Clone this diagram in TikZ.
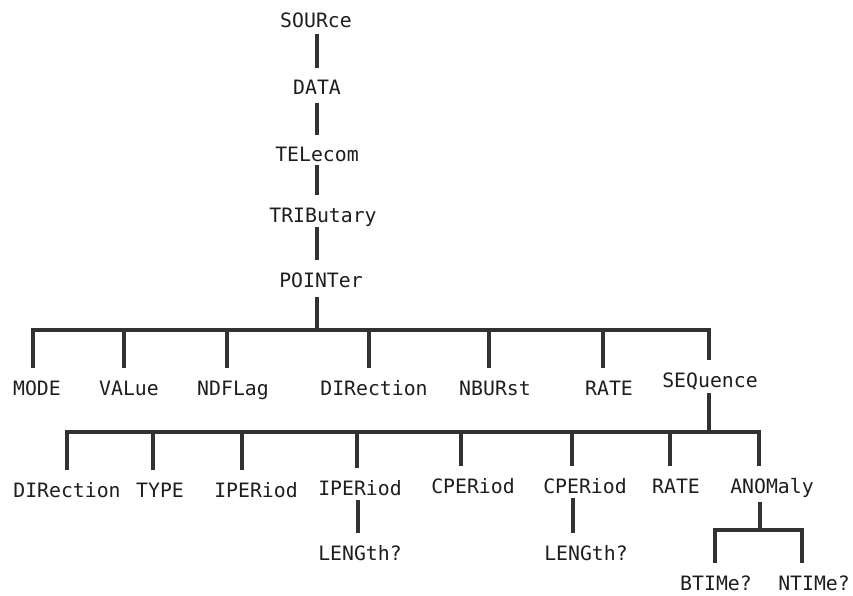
\documentclass[tikz,border=0pt]{standalone}
\usepackage{fontspec}
\setmonofont{DejaVu Sans Mono}
\definecolor{ink}{RGB}{30,30,30}
\definecolor{wirec}{RGB}{50,50,50}
\begin{document}
\begin{tikzpicture}[x=1pt,y=-1pt,
  lbl/.style={anchor=base, font=\ttfamily\fontsize{19.8}{22}\selectfont, text=ink,
              inner xsep=0pt, inner ysep=12pt, text height=15pt, text depth=0pt},
  wire/.style={draw=wirec, line width=3.2pt, line join=miter}]
\fill[white] (0,0) rectangle (853,596);
\useasboundingbox (0,0) rectangle (853,596);

% chain
\node[lbl] (source) at (316,28) {SOURce};
\node[lbl] (data)   at (317,95) {DATA};
\node[lbl] (tele)   at (317,162) {TELecom};
\node[lbl] (trib)   at (323,222) {TRIButary};
\node[lbl] (pointer) at (321,287) {POINTer};

% level 1
\node[lbl] (l1mode)   at (37,395)  {MODE};
\node[lbl] (l1value)  at (129,395) {VALue};
\node[lbl] (l1ndf)    at (233,395) {NDFLag};
\node[lbl] (l1dir)    at (374,395) {DIRection};
\node[lbl] (l1nburst) at (495,395) {NBURst};
\node[lbl] (l1rate)   at (609,395) {RATE};
\node[lbl] (l1seq)    at (710,387) {SEQuence};

% level 2
\node[lbl] (l2dir)   at (67,497)  {DIRection};
\node[lbl] (l2type)  at (160,497) {TYPE};
\node[lbl] (l2iper)  at (256,497) {IPERiod};
\node[lbl] (l2iper2) at (360,495) {IPERiod};
\node[lbl] (l2cper)  at (473,493) {CPERiod};
\node[lbl] (l2cper2) at (585,493) {CPERiod};
\node[lbl] (l2rate)  at (676,493) {RATE};
\node[lbl] (l2anom)  at (772,493) {ANOMaly};

% level 3
\node[lbl] (len1)  at (360,560) {LENGth?};
\node[lbl] (len2)  at (586,560) {LENGth?};
\node[lbl] (btime) at (716,590) {BTIMe?};
\node[lbl] (ntime) at (814,590) {NTIMe?};

% coordinates
\coordinate (spine) at (317,0);
\coordinate (b1) at (0,330);
\coordinate (b2) at (0,432);
\foreach \n/\x in {mode/33, value/124, ndf/227, dir/369, nburst/489, rate/603, seq/709}
  \coordinate (j1\n) at (\x,330);
\foreach \n/\x in {dir/67, type/153, iper/242, iper2/357, cper/461, cper2/572, rate/670, anom/759}
  \coordinate (j2\n) at (\x,432);
\coordinate (jlen1) at (358,0);
\coordinate (jlen2) at (573,0);
\coordinate (janom) at (760,530);
\coordinate (jbt) at (715,530);
\coordinate (jnt) at (802,530);

% chain connectors
\draw[wire] (source.south -| spine) ++(0,-6) -- (data.north -| spine);
\draw[wire] (data.south -| spine) ++(0,-4) -- (tele.north -| spine);
\draw[wire] (tele.south -| spine) ++(0,-9) -- (trib.north -| spine);
\draw[wire] (trib.south -| spine) ++(0,-7) -- (pointer.north -| spine);
\draw[wire] (pointer.south -| spine) ++(0,-2) -- (spine |- b1);

% level 1 bus
\draw[wire] (l1mode.north -| j1mode) |- (j1seq) -- (l1seq.north -| j1seq);
\foreach \n in {value, ndf, dir, nburst, rate}
  \draw[wire] (j1\n) -- (j1\n |- l1\n.north);

% level 2 bus
\draw[wire] (l1seq.south -| j1seq) ++(0,-6) -- (j1seq |- b2);
\draw[wire] (l2dir.north -| j2dir) |- (j2anom) -- (l2anom.north -| j2anom);
\foreach \n in {type, iper, iper2, cper, cper2, rate}
  \draw[wire] (j2\n) -- (j2\n |- l2\n.north);

% level 3
\draw[wire] (l2iper2.south -| jlen1) ++(0,-7) -- (len1.north -| jlen1);
\draw[wire] (l2cper2.south -| jlen2) ++(0,-7) -- (len2.north -| jlen2);
\draw[wire] (l2anom.south -| janom) ++(0,-3) -- (janom);
\draw[wire] (btime.north -| jbt) |- (jnt) -- (ntime.north -| jnt);
\end{tikzpicture}
\end{document}
